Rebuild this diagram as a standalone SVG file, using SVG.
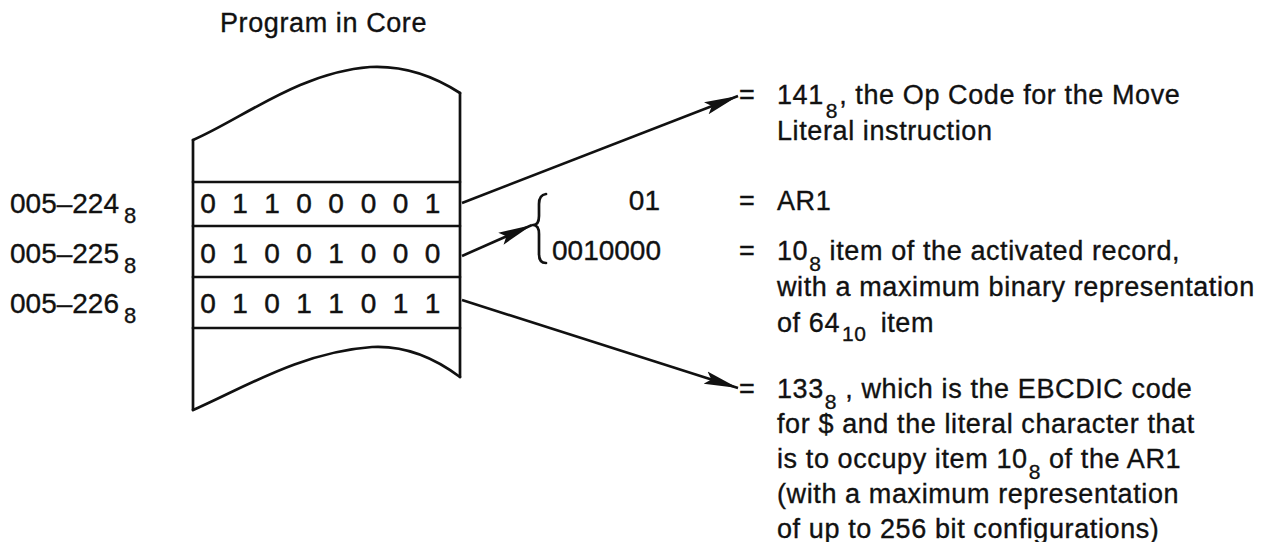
<svg xmlns="http://www.w3.org/2000/svg" width="1264" height="542" viewBox="0 0 1264 542">
<defs>
<style>
.t{font-family:"Liberation Sans",Arial,sans-serif;font-size:27px;fill:#111;letter-spacing:0.6px;stroke:#111;stroke-width:0.35px}
.lab{font-family:"Liberation Sans",Arial,sans-serif;font-size:28px;fill:#111;stroke:#111;stroke-width:0.35px}
.bits{font-family:"Liberation Sans",Arial,sans-serif;font-size:28px;fill:#111;stroke:#111;stroke-width:0.45px}
.sub{font-size:21px}
.ln{fill:none;stroke:#111;stroke-width:2.7;stroke-linejoin:round;stroke-linecap:round}
.conn{fill:none;stroke:#111;stroke-width:2.6}
</style>
<marker id="ah" markerUnits="userSpaceOnUse" markerWidth="36" markerHeight="16" refX="34" refY="7.5" orient="auto">
<path d="M0,1 L34,7.5 L0,14 L6,7.5 z" fill="#111"/>
</marker>
</defs>
<rect width="1264" height="542" fill="#fff"/>

<g id="title"><text class="t" x="220" y="32">Program in Core</text></g>

<g id="core">
<path class="ln" d="M193,140 C240,120 300,72 370,67 C410,65 440,80 460,93"/>
<path class="ln" d="M193,410 C240,390 300,352 372,347 C410,345 440,362 460,377"/>
<path class="ln" d="M193,140 L193,410 M460,93 L460,377"/>
<path class="ln" d="M193,182 L460,182 M193,226 L460,226 M193,277 L460,277 M193,328 L460,328"/>
</g>

<g id="row1"><text class="bits" text-anchor="middle" x="208 240 272 304 336 368.5 400.5 432.5" y="213">01100001</text></g>
<g id="row2"><text class="bits" text-anchor="middle" x="208 240 272 304 336 368.5 400.5 432.5" y="263">01001000</text></g>
<g id="row3"><text class="bits" text-anchor="middle" x="208 240 272 304 336 368.5 400.5 432.5" y="313">01011011</text></g>

<g id="addr1"><text class="lab" x="10" y="213">005–224<tspan font-size="22" dx="5" dy="10">8</tspan></text></g>
<g id="addr2"><text class="lab" x="10" y="263">005–225<tspan font-size="22" dx="5" dy="10">8</tspan></text></g>
<g id="addr3"><text class="lab" x="10" y="313">005–226<tspan font-size="22" dx="5" dy="10">8</tspan></text></g>

<g id="brace">
<path class="ln" stroke-width="2.2" d="M546,194 Q539,195 539,204 L539,216 Q539,225 533,225 Q539,225 539,234 L539,254 Q539,263 546,263"/>
</g>

<g id="fields">
<text class="lab" text-anchor="end" x="660" y="210">01</text>
<text class="lab" text-anchor="end" x="661" y="260">0010000</text>
</g>

<g id="note1">
<text class="t" x="739" y="104">=</text>
<text class="t" x="777" y="104">141<tspan class="sub" dx="2" dy="14">8</tspan><tspan dx="1" dy="-14">, the Op Code for the Move</tspan></text>
<text class="t" x="777" y="140">Literal instruction</text>
</g>

<g id="note2">
<text class="t" x="739" y="210">=</text>
<text class="t" x="777" y="210">AR1</text>
</g>

<g id="note3">
<text class="t" x="739" y="260">=</text>
<text class="t" x="777" y="260">10<tspan class="sub" dx="1" dy="11">8</tspan><tspan dy="-11"> item of the activated record,</tspan></text>
<text class="t" x="777" y="296">with a maximum binary representation</text>
<text class="t" x="777" y="332">of 64<tspan class="sub" dx="2" dy="9">10</tspan><tspan dx="14" dy="-9">item</tspan></text>
</g>

<g id="note4">
<text class="t" x="739" y="398">=</text>
<text class="t" x="777" y="398">133<tspan class="sub" dx="1" dy="11">8</tspan><tspan dy="-11"> , which is the EBCDIC code</tspan></text>
<text class="t" x="777" y="433">for $ and the literal character that</text>
<text class="t" x="777" y="468">is to occupy item 10<tspan class="sub" dx="1" dy="11">8</tspan><tspan dy="-11"> of the AR1</tspan></text>
<text class="t" x="777" y="503">(with a maximum representation</text>
<text class="t" x="777" y="538">of up to 256 bit configurations)</text>
</g>

<g id="connectors">
<line class="conn" x1="462" y1="203" x2="738" y2="96" marker-end="url(#ah)"/>
<line class="conn" x1="462" y1="256" x2="532" y2="225" marker-end="url(#ah)"/>
<line class="conn" x1="462" y1="300" x2="738" y2="388" marker-end="url(#ah)"/>
</g>
</svg>
